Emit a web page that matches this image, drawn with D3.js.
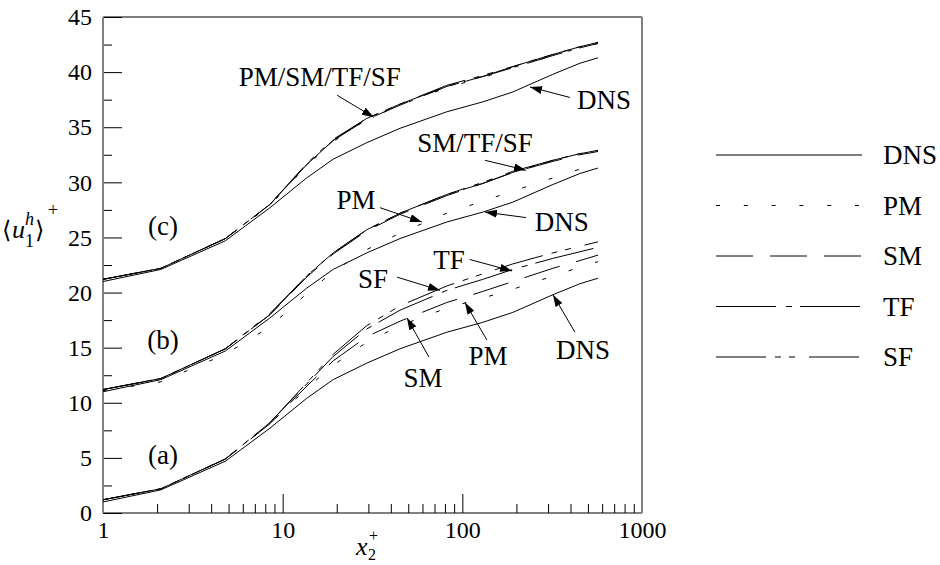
<!DOCTYPE html>
<html><head><meta charset="utf-8">
<script src="https://cdn.jsdelivr.net/npm/d3@7"></script>
<style>
body{margin:0;background:#fff}
svg{display:block}
</style></head>
<body><svg id="c" width="940" height="565" font-family="Liberation Serif"></svg>
<script>
// ---------- data ----------
const xPlus = [1, 2.1, 4.8, 8.5, 13.6, 19.1, 29.4, 45, 82, 130, 191, 319, 451, 569];

// group (a)
const dnsA = [1.0, 2.1, 4.7, 7.7, 10.4, 12.1, 13.6, 14.9, 16.4, 17.3, 18.2, 19.8, 20.8, 21.3];
const pmA  = [1.2, 2.2, 4.9, 8.1, 11.3, 13.4, 15.5, 17.0, 18.6, 19.5, 20.3, 21.5, 22.3, 22.8];
const smA  = [1.2, 2.2, 4.9, 8.1, 11.5, 13.8, 16.0, 17.4, 19.1, 20.1, 21.0, 22.2, 22.9, 23.4];
const tfA  = [1.2, 2.2, 4.9, 8.2, 11.7, 14.2, 16.7, 18.4, 20.2, 21.2, 22.1, 23.1, 23.7, 24.1];
const sfA  = [1.2, 2.2, 4.9, 8.2, 11.8, 14.4, 17.0, 18.8, 20.6, 21.7, 22.6, 23.6, 24.2, 24.6];
// group (b)
const dnsB = [11.0, 12.1, 14.7, 17.7, 20.4, 22.1, 23.6, 24.9, 26.4, 27.3, 28.2, 29.8, 30.8, 31.3];
const pmB  = [11.1, 11.9, 14.4, 16.9, 19.9, 21.9, 23.9, 25.4, 27.2, 28.3, 29.2, 30.4, 31.2, 31.6];
const smB  = [11.2, 12.2, 14.9, 18.0, 21.4, 23.5, 25.6, 27.1, 28.8, 29.9, 30.9, 31.9, 32.5, 32.8];
const tfB  = [11.2, 12.2, 14.9, 18.0, 21.5, 23.6, 25.7, 27.2, 28.9, 29.9, 30.9, 32.0, 32.6, 32.9];
const sfB  = [11.2, 12.2, 14.9, 18.1, 21.5, 23.6, 25.7, 27.2, 28.9, 30.0, 31.0, 32.0, 32.6, 32.9];
// group (c)
const dnsC = [21.0, 22.1, 24.7, 27.7, 30.4, 32.1, 33.6, 34.9, 36.4, 37.3, 38.2, 39.8, 40.8, 41.3];
const pmC  = [21.2, 22.2, 24.9, 27.9, 31.5, 33.7, 35.7, 37.0, 38.6, 39.5, 40.4, 41.5, 42.2, 42.6];
const smC  = [21.2, 22.2, 24.9, 28.0, 31.6, 33.8, 35.7, 37.0, 38.7, 39.6, 40.4, 41.5, 42.2, 42.6];
const tfC  = [21.2, 22.2, 24.9, 28.0, 31.6, 33.8, 35.8, 37.1, 38.7, 39.6, 40.5, 41.6, 42.3, 42.7];
const sfC  = [21.2, 22.2, 24.9, 28.0, 31.7, 33.9, 35.8, 37.1, 38.8, 39.7, 40.5, 41.6, 42.3, 42.7];

const seriesNames = ["DNS", "PM", "SM", "TF", "SF"];
const xTickLabels = [1, 10, 100, 1000];
const yTickLabels = [0, 5, 10, 15, 20, 25, 30, 35, 40, 45];
const groupLabels = ["(a)", "(b)", "(c)"];
const groupLabelU = [5.26, 15.7, 26.1];
const groupLabelX = 2.16;

// annotations in data units: text, label (x,u), arrow start (x,u), arrow tip (x,u)
const annText = ["PM/SM/TF/SF", "DNS", "SM/TF/SF", "PM", "DNS", "TF", "SF", "SM", "PM", "DNS"];
const annLabelX = [16.1, 614, 117.6, 25.6, 358, 84.2, 31.8, 60.4, 138.9, 469];
const annLabelU = [39.6, 37.5, 33.6, 28.4, 26.4, 22.95, 21.3, 12.3, 14.3, 14.8];
const annFromX  = [20.1, 397, 133.6, 34.8, 226, 110, 43.3, 65.2, 137, 423.6];
const annFromU  = [37.9, 37.7, 32.0, 27.7, 26.8, 23.0, 21.4, 14.15, 15.7, 16.4];
const annTipX   = [32.2, 238, 226, 59.6, 133.6, 189, 75.1, 49.2, 103.4, 319.5];
const annTipU   = [35.9, 38.65, 31.1, 26.4, 27.3, 21.96, 20.2, 17.7, 19.1, 19.8];

// ---------- styles ----------
const FONT = "Liberation Serif";
const dashes = {DNS: null, PM: "4,23.8", SM: "37,17", TF: "60,10,6,8", SF: "50,9,6,8,6,14"};
const FS = 27, TFS = 24, SFS = 18;

const svg = d3.select("#c");
const L = 103, R = 642, T = 17, B = 513;
const x = d3.scaleLog().domain([1, 1000]).range([L, R]);
const y = d3.scaleLinear().domain([0, 45]).range([B, T]);

// defs: arrowhead
svg.append("defs").append("marker")
  .attr("id", "ah").attr("viewBox", "0 0 12 8").attr("refX", 12).attr("refY", 4)
  .attr("markerWidth", 12).attr("markerHeight", 8).attr("markerUnits", "userSpaceOnUse")
  .attr("orient", "auto")
  .append("path").attr("d", "M0,0 L12,4 L0,8 Z").attr("fill", "#000");

// axes
const minorX = [];
[1, 10, 100].forEach(d => { for (let k = 2; k <= 9; k++) minorX.push(d * k); });
const gx = svg.append("g").attr("transform", `translate(0,${B})`);
gx.call(d3.axisBottom(x).tickValues(minorX).tickSize(-9).tickFormat(""));
gx.select(".domain").remove();
const gx2 = svg.append("g").attr("transform", `translate(0,${B})`);
gx2.call(d3.axisBottom(x).tickValues(xTickLabels).tickSize(-19).tickPadding(8).tickFormat(d3.format("d")));
gx2.select(".domain").remove();
gx2.attr("font-family", FONT).attr("font-size", TFS);

const minorY = yTickLabels.slice(0, -1).map(d => d + 2.5);
const gy = svg.append("g").attr("transform", `translate(${L},0)`);
gy.call(d3.axisLeft(y).tickValues(minorY).tickSize(-9).tickFormat(""));
gy.select(".domain").remove();
const gy2 = svg.append("g").attr("transform", `translate(${L},0)`);
gy2.call(d3.axisLeft(y).tickValues(yTickLabels).tickSize(-19).tickPadding(11).tickFormat(d3.format("d")));
gy2.select(".domain").remove();
gy2.attr("font-family", FONT).attr("font-size", TFS);
svg.selectAll(".tick line").attr("stroke", "#000");
svg.selectAll(".tick text").attr("fill", "#000");

// frame
svg.append("line").attr("x1", L).attr("x2", R).attr("y1", T).attr("y2", T).attr("stroke", "#000").attr("stroke-width", 1.2);
svg.append("line").attr("x1", L).attr("x2", R).attr("y1", B).attr("y2", B).attr("stroke", "#000").attr("stroke-width", 1.2);
svg.append("line").attr("x1", L).attr("x2", L).attr("y1", T).attr("y2", B).attr("stroke", "#808080").attr("stroke-width", 2);
svg.append("line").attr("x1", R).attr("x2", R).attr("y1", T).attr("y2", B).attr("stroke", "#808080").attr("stroke-width", 2);

// curves
const groups = [
  {DNS: dnsA, PM: pmA, SM: smA, TF: tfA, SF: sfA},
  {DNS: dnsB, PM: pmB, SM: smB, TF: tfB, SF: sfB},
  {DNS: dnsC, PM: pmC, SM: smC, TF: tfC, SF: sfC}
];
const line = d3.line().x(d => x(d[0])).y(d => y(d[1]));
groups.forEach(g => {
  seriesNames.forEach(s => {
    const pts = xPlus.map((xv, i) => [xv, g[s][i]]);
    svg.append("path").attr("d", line(pts)).attr("fill", "none")
      .attr("stroke", "#000").attr("stroke-width", 1)
      .attr("stroke-dasharray", dashes[s]);
  });
});

function txt(xp, yp, fs) {
  return svg.append("text").attr("x", xp).attr("y", yp)
    .attr("font-family", FONT).attr("font-size", fs || FS).attr("fill", "#000");
}

// group labels
groupLabels.forEach((t, i) => {
  txt(x(groupLabelX), y(groupLabelU[i])).attr("dy", "0.35em").attr("text-anchor", "middle").text(t);
});

// annotations
annText.forEach((t, i) => {
  svg.append("line")
    .attr("x1", x(annFromX[i])).attr("y1", y(annFromU[i]))
    .attr("x2", x(annTipX[i])).attr("y2", y(annTipU[i]))
    .attr("stroke", "#000").attr("stroke-width", 1).attr("marker-end", "url(#ah)");
  txt(x(annLabelX[i]), y(annLabelU[i])).attr("dy", "0.35em").attr("text-anchor", "middle").text(t);
});

// axis titles
txt(356, 555, 26).attr("font-style", "italic").text("x");
txt(368, 560, 16).text("2");
txt(369, 541, 16).text("+");

// y title: ⟨u_1^h⟩^+ built from pieces
txt(2, 238, 24).attr("font-family", "DejaVu Serif").text("\u27E8");
txt(12, 238, 26).attr("font-style", "italic").text("u");
txt(25, 225, SFS).attr("font-style", "italic").text("h");
txt(25, 247, SFS).text("1");
txt(35, 238, 24).attr("font-family", "DejaVu Serif").text("\u27E9");
txt(48, 216, SFS).text("+");

// legend
const legY = [155, 205.5, 256, 306.5, 357];
seriesNames.forEach((s, i) => {
  svg.append("line").attr("x1", 716).attr("x2", 862).attr("y1", legY[i]).attr("y2", legY[i])
    .attr("stroke", "#000").attr("stroke-width", 1).attr("stroke-dasharray", dashes[s]);
  txt(883, legY[i]).attr("dy", "0.35em").text(s);
});
</script></body></html>
